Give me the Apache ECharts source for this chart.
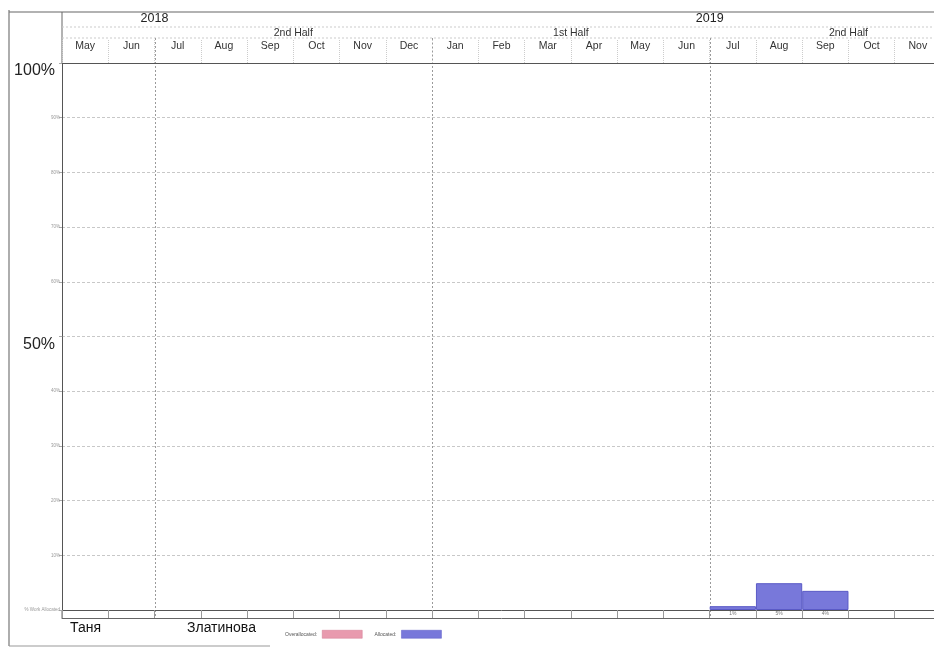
<!DOCTYPE html>
<html><head><meta charset="utf-8">
<script src="https://cdn.jsdelivr.net/npm/echarts@6/dist/echarts.min.js"></script>
<style>html,body{margin:0;padding:0;background:#fff;overflow:hidden;width:934px;height:650px}#c{width:941px;height:650px}</style>
</head><body><div id="c"></div>
<script>
// ---- data ----
const months = ['May','Jun','Jul','Aug','Sep','Oct','Nov','Dec','Jan','Feb','Mar','Apr','May','Jun','Jul','Aug','Sep','Oct','Nov'];
const monthYears = [2018,2018,2018,2018,2018,2018,2018,2018,2019,2019,2019,2019,2019,2019,2019,2019,2019,2019,2019];
const allocated = [0,0,0,0,0,0,0,0,0,0,0,0,0,0,0.7,4.9,3.5,0,0];
const overallocated = [0,0,0,0,0,0,0,0,0,0,0,0,0,0,0,0,0,0,0];
const yearLabels = ['2018','2019'];
const yearStart = [-4, 8];   // month offsets from May 2018
const yearEnd = [8, 20];
const halfLabels = ['2nd Half','1st Half','2nd Half'];
const halfStart = [2, 8, 14];
const halfEnd = [8, 14, 20];
const yTickLabels = {0:'% Work Allocated',10:'10%',20:'20%',30:'30%',40:'40%',50:'50%',60:'60%',70:'70%',80:'80%',90:'90%',100:'100%'};
const bigTicks = [50, 100];
const resourceFirst = 'Таня';
const resourceLast = 'Златинова';
const legendNames = ['Overallocated','Allocated'];

const FONT = '"Liberation Sans", Arial, sans-serif';
const monthKeys = months.map((m,i)=> m + ' ' + monthYears[i]);
const nz = arr => arr.map(v => v > 0 ? v : '-');

const chart = echarts.init(document.getElementById('c'), null, {renderer:'canvas'});
const option = {
  animation:false,
  backgroundColor:'#fff',
  textStyle:{fontFamily:FONT},
  grid:{left:62, top:63, right:0, height:547, containLabel:false},
  legend:{
    data:legendNames, left:280, top:625, align:'right', icon:'rect',
    itemWidth:40, itemHeight:8, itemGap:12,
    formatter:n=>n+':',
    itemStyle:{borderWidth:0.5},
    textStyle:{fontSize:5, color:'#555', fontFamily:FONT}
  },
  xAxis:[
    {type:'category', data:monthKeys, position:'bottom', boundaryGap:true,
     axisLine:{show:true, lineStyle:{color:'#555', width:1}},
     axisTick:{show:true, length:8, interval:0, lineStyle:{color:'#999'}},
     axisLabel:{interval:0, margin:1, fontSize:5, color:'#777',
       formatter:(v,i)=> allocated[i]>0 ? Math.round(allocated[i])+'%' : ''},
     splitLine:{show:false}},
    {type:'category', data:monthKeys, position:'top', boundaryGap:true,
     axisLine:{show:true, lineStyle:{color:'#555', width:1.2}},
     axisTick:{show:true, length:24, interval:0, lineStyle:{color:'#ccc', type:'dotted'}},
     axisLabel:{interval:0, margin:11, fontSize:10.5, color:'#333', fontFamily:FONT,
       formatter:v=>v.split(' ')[0]},
     splitLine:{show:false}},
    {type:'value', min:0, max:19, show:false},
    {type:'category', data:monthKeys, position:'bottom', offset:8,
     axisLine:{show:true, lineStyle:{color:'#666', width:1}},
     axisTick:{show:false}, axisLabel:{show:false}, splitLine:{show:false}}
  ],
  yAxis:[{
    type:'value', min:0, max:100, interval:10,
    axisLine:{show:true, lineStyle:{color:'#555', width:1}},
    axisTick:{show:true, length:3, lineStyle:{color:'#aaa'}},
    splitLine:{show:true, lineStyle:{color:'#c8c8c8', type:[3,2], width:1}},
    axisLabel:{margin:2, fontFamily:FONT,
      formatter:v=> bigTicks.indexOf(v)>=0 ? '{big|'+yTickLabels[v]+'}' : '{small|'+(yTickLabels[v]||'')+'}',
      rich:{
        big:{fontSize:16, color:'#222', fontFamily:FONT, padding:[16,5,0,0]},
        small:{fontSize:4.5, color:'#999', fontFamily:FONT}
      }}
  }],
  series:[
    {name:'Overallocated', type:'bar', stack:'w', xAxisIndex:0, yAxisIndex:0,
     barCategoryGap:'0%', data:nz(overallocated),
     itemStyle:{color:'#e89aae', borderColor:'#d27890', borderWidth:0}},
    {name:'Allocated', type:'bar', stack:'w', xAxisIndex:0, yAxisIndex:0,
     barCategoryGap:'0%', data:nz(allocated),
     itemStyle:{color:'#7878da', borderColor:'#5a5ac6', borderWidth:1}}
  ]
};
chart.setOption(option);

const px = v => chart.convertToPixel({xAxisIndex:2}, v);
const g = [];
const line = (x1,y1,x2,y2,stroke,w,dash)=> g.push({type:'line', silent:true,
  shape:{x1,y1,x2,y2}, style:{stroke, lineWidth:w||1, lineDash:dash||null}});
// frame
line(9,12,941,12,'#666',1.2);
line(9,10,9,646,'#777',1.2);
line(62,12,62,63,'#666',1);
line(62,610,62,618,'#666',1);
line(62,27,941,27,'#ccc',1,[2,2]);
line(62,38,941,38,'#ccc',1,[2,2]);
line(9,646,270,646,'#999',1);
// half-year boundaries
halfStart.forEach(s=>{ const x = Math.round(px(s))+0.5; line(x,38,x,618,'#9a9a9a',1,[2,2]); });
// year labels
yearLabels.forEach((t,i)=> g.push({type:'text', silent:true, x:px((yearStart[i]+yearEnd[i])/2), y:19,
  style:{text:t, fill:'#222', font:'12.5px '+FONT, align:'center', verticalAlign:'middle'}}));
halfLabels.forEach((t,i)=> g.push({type:'text', silent:true, x:px((halfStart[i]+halfEnd[i])/2), y:33,
  style:{text:t, fill:'#333', font:'10.5px '+FONT, align:'center', verticalAlign:'middle'}}));
// resource name
g.push({type:'text', silent:true, x:70, y:628, style:{text:resourceFirst, fill:'#111', font:'14px '+FONT, verticalAlign:'middle'}});
g.push({type:'text', silent:true, x:187, y:628, style:{text:resourceLast, fill:'#111', font:'14px '+FONT, verticalAlign:'middle'}});
chart.setOption({graphic:{elements:g}});
</script>
</body></html>
